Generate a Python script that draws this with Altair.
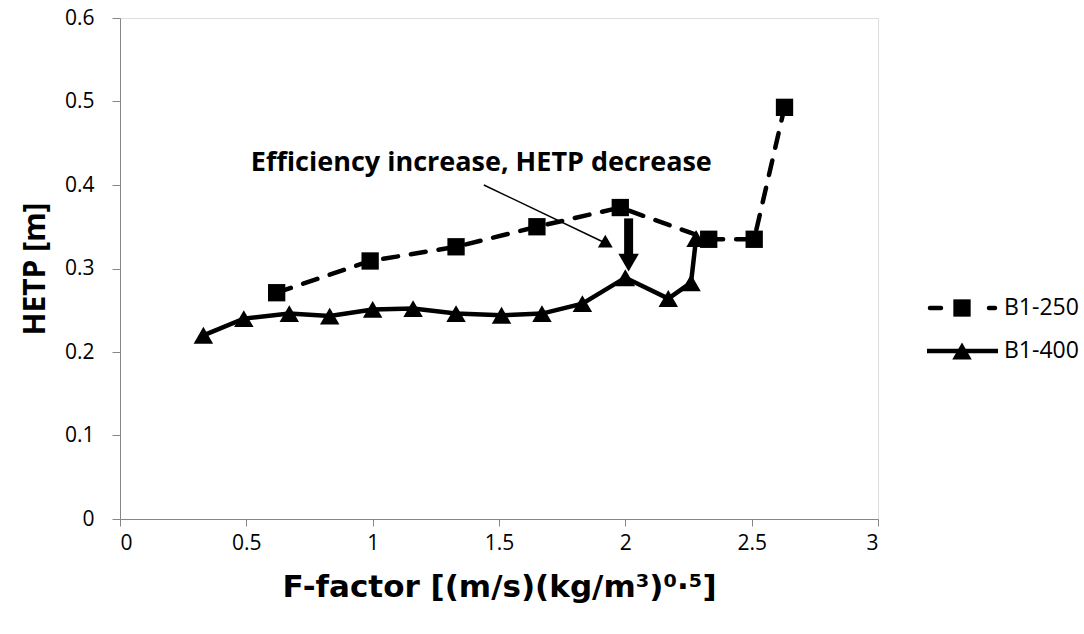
import altair as alt
import pandas as pd

# ---- data ----
series = ["B1-250", "B1-400"]
f_250 = [0.62, 0.99, 1.33, 1.65, 1.98, 2.33, 2.51, 2.63]
hetp_250 = [0.271, 0.309, 0.326, 0.350, 0.373, 0.335, 0.335, 0.493]
f_400 = [0.33, 0.49, 0.67, 0.83, 1.00, 1.16, 1.33, 1.51, 1.67, 1.83, 2.00, 2.17, 2.26, 2.28]
hetp_400 = [0.220, 0.240, 0.246, 0.243, 0.251, 0.252, 0.246, 0.244, 0.246, 0.258,
            0.289, 0.264, 0.283, 0.336]
x_ticks = [0, 0.5, 1, 1.5, 2, 2.5, 3]
y_ticks = [0, 0.1, 0.2, 0.3, 0.4, 0.5, 0.6]
note_text = "Efficiency increase, HETP decrease"

FONT = "Open Sans"
LBL = 21
TTL = 30

d250 = pd.DataFrame({"F": f_250, "HETP": hetp_250, "o": range(len(f_250))})
d400 = pd.DataFrame({"F": f_400, "HETP": hetp_400, "o": range(len(f_400))})

xs = alt.Scale(domain=[0, 3], nice=False, zero=False)
ys = alt.Scale(domain=[0, 0.6], nice=False, zero=False)

xax = alt.Axis(values=x_ticks, format="~g", grid=False, title="F-factor [(m/s)(kg/m³)⁰·⁵]",
               labelFont=FONT, labelFontSize=LBL, labelColor="#000000", labelPadding=6,
               domainColor="#868686", tickColor="#868686", tickSize=7,
               titleFont="DejaVu Sans", titleFontSize=31, titleFontWeight="bold", titleColor="#000000",
               titlePadding=19)
yax = alt.Axis(values=y_ticks, format="~g", grid=False, title="HETP [m]",
               labelFont=FONT, labelFontSize=LBL, labelColor="#000000", labelPadding=18,
               domainColor="#868686", tickColor="#868686", tickSize=8,
               titleFont=FONT, titleFontSize=TTL, titleFontWeight="bold", titleColor="#000000",
               titlePadding=14)

X = alt.X("F:Q", scale=xs, axis=xax)
Y = alt.Y("HETP:Q", scale=ys, axis=yax)

line250 = alt.Chart(d250).mark_line(color="black", strokeWidth=4.5, strokeDash=[15, 13],
                                    strokeCap="round").encode(X, Y, order="o:Q")
pts250 = alt.Chart(d250).mark_point(shape="square", filled=True, color="black", size=300,
                                    opacity=1).encode(X, Y)
line400 = alt.Chart(d400).mark_line(color="black", strokeWidth=4.5).encode(X, Y, order="o:Q")
pts400 = alt.Chart(d400).mark_point(shape="triangle-up", filled=True, color="black", size=380,
                                    opacity=1).encode(X, Y)

# annotation
note = alt.Chart(pd.DataFrame({"F": [1.43], "HETP": [0.426], "t": [note_text]})).mark_text(
    font=FONT, fontSize=27, fontWeight="bold", color="black", baseline="middle").encode(X, Y, text="t:N")

thin = pd.DataFrame({"F": [1.44], "HETP": [0.400], "F2": [1.925], "H2": [0.330]})
thin_line = alt.Chart(thin).mark_rule(color="black", strokeWidth=1.5).encode(
    X, Y, x2="F2:Q", y2="H2:Q")
thin_head = alt.Chart(pd.DataFrame({"F": [1.928], "HETP": [0.329]})).mark_point(
    shape="triangle-right", filled=True, color="black", size=220, opacity=1, angle=30).encode(X, Y)

thick = pd.DataFrame({"F": [2.013], "HETP": [0.360], "H2": [0.31]})
thick_line = alt.Chart(thick).mark_rule(color="black", strokeWidth=9).encode(X, Y, y2="H2:Q")
thick_head = alt.Chart(pd.DataFrame({"F": [2.013], "HETP": [0.307]})).mark_point(
    shape="triangle-down", filled=True, color="black", size=420, opacity=1).encode(X, Y)

# manual legend (pixel positions relative to plot area)
one = pd.DataFrame({"k": [0]})
leg_y1, leg_y2 = 290, 333
LEG = 23
leg = [
    alt.Chart(one).mark_rule(color="black", strokeWidth=4.5, strokeDash=[11, 48], strokeCap="round").encode(
        x=alt.value(810), x2=alt.value(875), y=alt.value(leg_y1)),
    alt.Chart(one).mark_point(shape="square", filled=True, color="black", size=300, opacity=1).encode(
        x=alt.value(842), y=alt.value(leg_y1)),
    alt.Chart(pd.DataFrame({"t": [series[0]]})).mark_text(font=FONT, fontSize=LEG, align="left",
                                                          baseline="middle", color="black").encode(
        x=alt.value(884), y=alt.value(leg_y1), text="t:N"),
    alt.Chart(one).mark_rule(color="black", strokeWidth=4.5).encode(
        x=alt.value(807), x2=alt.value(878), y=alt.value(leg_y2)),
    alt.Chart(one).mark_point(shape="triangle-up", filled=True, color="black", size=380, opacity=1).encode(
        x=alt.value(842), y=alt.value(leg_y2)),
    alt.Chart(pd.DataFrame({"t": [series[1]]})).mark_text(font=FONT, fontSize=LEG, align="left",
                                                          baseline="middle", color="black").encode(
        x=alt.value(884), y=alt.value(leg_y2), text="t:N"),
]

chart = alt.layer(line250, line400, pts250, pts400, note, thin_line, thin_head, thick_line,
                  thick_head, *leg).properties(
    width=758, height=501,
    autosize=alt.AutoSizeParams(type="none"),
    padding={"left": 120, "top": 18, "right": 206, "bottom": 115},
).configure_view(stroke=None).configure(background="white")

chart.save("out.html", embed_options={"renderer": "svg", "actions": False})
